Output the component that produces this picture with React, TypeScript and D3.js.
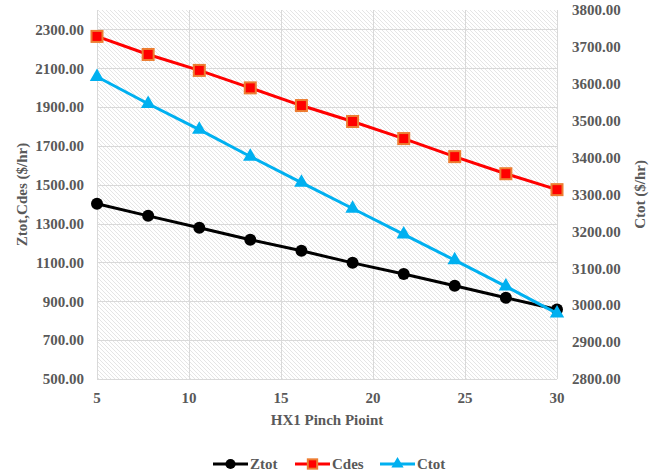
import React, { useEffect, useRef } from 'react';
import * as d3 from 'd3';

// x positions (HX1 pinch point)
const pinch = [5, 7.78, 10.56, 13.33, 16.11, 18.89, 21.67, 24.44, 27.22, 30];
// left axis series
const ztot = [1402, 1340, 1279, 1217, 1160, 1098, 1041, 980, 918, 858];
const cdes = [2264, 2171, 2089, 1999, 1908, 1826, 1738, 1645, 1557, 1475];
// right axis series
const ctot = [3619, 3546, 3476, 3403, 3332, 3262, 3192, 3122, 3051, 2978];

const xTicks = [5, 10, 15, 20, 25, 30];
const leftTicks = [500, 700, 900, 1100, 1300, 1500, 1700, 1900, 2100, 2300];
const rightTicks = [2800, 2900, 3000, 3100, 3200, 3300, 3400, 3500, 3600, 3700, 3800];

export default function App() {
  const svgRef = useRef<SVGSVGElement>(null);

  useEffect(() => {
    const width = 659;
    const height = 475;
    const plot = { left: 97, right: 557, top: 10, bottom: 379 };
    const font = "'Liberation Serif', 'Times New Roman', Times, serif";
    const textColor = '#595959';

    const svg = d3.select(svgRef.current);
    svg.selectAll('*').remove();
    svg.attr('width', width).attr('height', height);

    svg.append('rect').attr('width', width).attr('height', height).attr('fill', 'white');

    // hatch pattern
    const defs = svg.append('defs');
    const pat = defs.append('pattern')
      .attr('id', 'hatch')
      .attr('patternUnits', 'userSpaceOnUse')
      .attr('width', 4)
      .attr('height', 4);
    pat.append('rect').attr('width', 4).attr('height', 4).attr('fill', 'white');
    pat.append('path')
      .attr('d', 'M-1,-1L5,5M-1,3L1,5M3,-1L5,1')
      .attr('stroke', '#d4d4d4')
      .attr('stroke-width', 0.6);

    const x = d3.scaleLinear().domain([5, 30]).range([plot.left, plot.right]);
    const yL = d3.scaleLinear().domain([500, 2400]).range([plot.bottom, plot.top]);
    const yR = d3.scaleLinear().domain([2800, 3800]).range([plot.bottom, plot.top]);

    svg.append('rect')
      .attr('x', plot.left)
      .attr('y', plot.top)
      .attr('width', plot.right - plot.left)
      .attr('height', plot.bottom - plot.top)
      .attr('fill', 'url(#hatch)');

    // gridlines
    const grid = svg.append('g').attr('stroke', '#d9d9d9').attr('stroke-width', 1);
    leftTicks.forEach(t => {
      grid.append('line')
        .attr('x1', plot.left).attr('x2', plot.right)
        .attr('y1', Math.round(yL(t)) + 0.5).attr('y2', Math.round(yL(t)) + 0.5);
    });
    xTicks.forEach(t => {
      grid.append('line')
        .attr('x1', Math.round(x(t)) + 0.5).attr('x2', Math.round(x(t)) + 0.5)
        .attr('y1', plot.top).attr('y2', plot.bottom);
    });

    // text styling
    const tickText = (sel: any) => sel
      .style('font-family', font)
      .style('font-size', '15px')
      .style('font-weight', 'bold')
      .attr('fill', textColor);

    leftTicks.forEach(t => {
      svg.append('text')
        .attr('x', 84).attr('y', yL(t)).attr('dy', '0.35em')
        .attr('text-anchor', 'end')
        .call(tickText)
        .text(t.toFixed(2));
    });
    rightTicks.forEach(t => {
      svg.append('text')
        .attr('x', 572).attr('y', yR(t)).attr('dy', '0.35em')
        .attr('text-anchor', 'start')
        .call(tickText)
        .text(t.toFixed(2));
    });
    xTicks.forEach(t => {
      svg.append('text')
        .attr('x', x(t)).attr('y', 398).attr('dy', '0.35em')
        .attr('text-anchor', 'middle')
        .call(tickText)
        .text(t);
    });

    // axis titles
    svg.append('text')
      .attr('transform', `translate(27,${(plot.top + plot.bottom) / 2}) rotate(-90)`)
      .attr('text-anchor', 'middle')
      .call(tickText)
      .text('Ztot,Cdes ($/hr)');
    svg.append('text')
      .attr('transform', `translate(645,${(plot.top + plot.bottom) / 2}) rotate(-90)`)
      .attr('text-anchor', 'middle')
      .call(tickText)
      .text('Ctot ($/hr)');
    svg.append('text')
      .attr('x', (plot.left + plot.right) / 2).attr('y', 420).attr('dy', '0.35em')
      .attr('text-anchor', 'middle')
      .call(tickText)
      .text('HX1 Pinch Pioint');

    // series
    const series = [
      { name: 'Ztot', values: ztot, y: yL, color: '#000000', marker: 'circle' },
      { name: 'Cdes', values: cdes, y: yL, color: '#ff0000', marker: 'square' },
      { name: 'Ctot', values: ctot, y: yR, color: '#00b0f0', marker: 'triangle' },
    ];

    const drawMarker = (g: any, kind: string, cx: number, cy: number, color: string, k = 1) => {
      if (kind === 'circle') {
        g.append('circle').attr('cx', cx).attr('cy', cy).attr('r', 6 * k).attr('fill', color);
      } else if (kind === 'square') {
        const h = 5.5 * k;
        g.append('rect')
          .attr('x', cx - h).attr('y', cy - h)
          .attr('width', 2 * h).attr('height', 2 * h)
          .attr('fill', '#ff0000')
          .attr('stroke', '#ed7d31')
          .attr('stroke-width', 2);
      } else {
        g.append('path')
          .attr('transform', `translate(${cx},${cy})`)
          .attr('d', d3.symbol(d3.symbolTriangle, 90 * k * k)())
          .attr('fill', color);
      }
    };

    series.forEach(s => {
      const pts = s.values.map((v, i) => [pinch[i], v] as [number, number]);
      const line = d3.line<[number, number]>()
        .x(d => x(d[0]))
        .y(d => s.y(d[1]));
      svg.append('path')
        .datum(pts)
        .attr('fill', 'none')
        .attr('stroke', s.color)
        .attr('stroke-width', 3)
        .attr('d', line);
      const g = svg.append('g');
      pts.forEach(d => drawMarker(g, s.marker, x(d[0]), s.y(d[1]), s.color));
    });

    // legend
    const legendX = [213, 295, 380];
    const ly = 464;
    series.forEach((s, i) => {
      const lx = legendX[i];
      svg.append('line')
        .attr('x1', lx).attr('x2', lx + 35)
        .attr('y1', ly).attr('y2', ly)
        .attr('stroke', s.color).attr('stroke-width', 3);
      drawMarker(svg, s.marker, lx + 17.5, ly, s.color, 0.85);
      svg.append('text')
        .attr('x', lx + 37).attr('y', ly).attr('dy', '0.35em')
        .call(tickText)
        .text(s.name);
    });
  }, []);

  return (
    <svg ref={svgRef} style={{ position: 'absolute', left: 0, top: 0, display: 'block' }} />
  );
}
